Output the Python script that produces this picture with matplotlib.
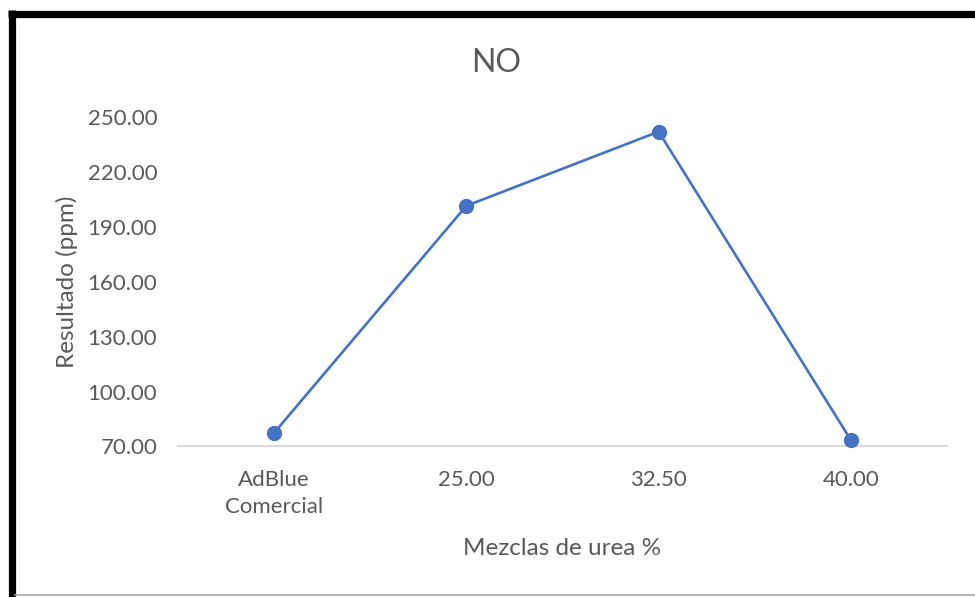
import matplotlib
matplotlib.use("Agg")
import matplotlib.pyplot as plt
from matplotlib.lines import Line2D

categories = ["AdBlue\nComercial", "25.00", "32.50", "40.00"]
no_ppm = [77.5, 201.5, 242.0, 73.5]
y_ticks = [70, 100, 130, 160, 190, 220, 250]

plt.rcParams['font.family'] = ['Lato', 'DejaVu Sans']
text_color = "#595959"
line_color = "#4472C4"

fig = plt.figure(figsize=(9.75, 5.97), dpi=100)
ax = fig.add_axes([0.1826, 0.2521, 0.7887, 0.5519])

x = list(range(len(categories)))
ax.plot(x, no_ppm, color=line_color, linewidth=1.9, marker="o",
        markersize=10, markerfacecolor=line_color, markeredgecolor=line_color,
        clip_on=False, zorder=3)

ax.set_xlim(-0.5, len(categories) - 0.5)
ax.set_ylim(70, 250)
ax.set_yticks(y_ticks)
ax.set_yticklabels([f"{v:.2f}" for v in y_ticks])
ax.set_xticks(x)
ax.set_xticklabels(categories, linespacing=1.45)

for side in ["top", "right", "left"]:
    ax.spines[side].set_visible(False)
ax.spines["bottom"].set_color("#d9d9d9")
ax.spines["bottom"].set_linewidth(1.5)
ax.tick_params(axis="both", length=0, labelsize=16, colors=text_color)
ax.tick_params(axis="y", pad=15)
ax.tick_params(axis="x", pad=17)

ax.set_ylabel("Resultado (ppm)", fontsize=17.5, color=text_color, labelpad=7)
ax.set_xlabel("Mezclas de urea %", fontsize=17.5, color=text_color, labelpad=15)

W, H = 975.0, 597.0
def fx(px):
    return px / W
def fy(py):
    return 1 - py / H

fig.text(fx(496), fy(63), "NO", fontsize=23, color=text_color,
         ha="center", va="center")

# frame around the chart
fig.add_artist(Line2D([fx(8), fx(975)], [fy(13.5), fy(13.5)], color="black",
                      linewidth=5.2, solid_capstyle="butt"))
fig.add_artist(Line2D([fx(11.5), fx(11.5)], [fy(10), fy(597)], color="black",
                      linewidth=5.2, solid_capstyle="butt"))
fig.add_artist(Line2D([fx(15), fx(975)], [fy(595), fy(595)], color="#a6a6a6",
                      linewidth=1.2))

fig.savefig("out.png", dpi=100)
